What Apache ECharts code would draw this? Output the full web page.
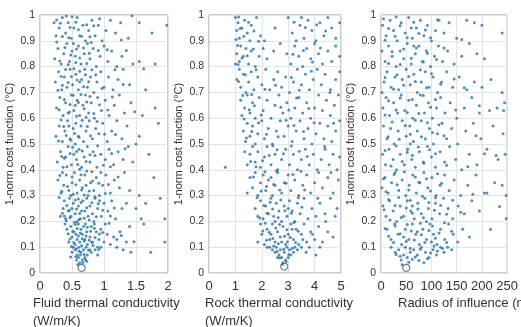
<!DOCTYPE html>
<html><head><meta charset="utf-8">
<script src="https://cdn.jsdelivr.net/npm/echarts@6/dist/echarts.min.js"></script>
<style>html,body{margin:0;padding:0;background:#fff}#c{width:521px;height:327px}</style>
</head><body><div id="c"></div>
<script>
// Panel 1: fluid thermal conductivity (W/m/K) vs 1-norm cost function (°C)
const fluidPoints = [
[0.62,0.04],[0.66,0.05],[0.6,0.06],[0.7,0.06],[0.58,0.07],[0.64,0.08],[0.74,0.07],[0.55,0.09],[0.68,0.09],[0.8,0.08],[0.52,0.1],[0.61,0.1],[0.72,0.1],[0.86,0.09],[0.9,0.07],[0.57,0.05],[0.78,0.09],[0.63,0.07],[0.5,0.08],[0.95,0.1],[1.2,0.1],[1.3,0.09],[1.42,0.08],[1.73,0.08],[1.95,0.12],
[0.45,0.12],[0.5,0.14],[0.55,0.11],[0.58,0.13],[0.62,0.12],[0.66,0.15],[0.7,0.13],[0.74,0.11],[0.78,0.14],[0.82,0.12],[0.88,0.16],[0.92,0.13],[1.0,0.12],[1.05,0.15],[1.1,0.11],[1.15,0.14],[0.42,0.17],[0.48,0.18],[0.53,0.16],[0.6,0.19],[0.64,0.17],[0.68,0.18],[0.73,0.16],[0.8,0.18],[0.85,0.19],[0.95,0.17],[1.02,0.19],[1.2,0.13],[1.25,0.16],[1.35,0.12],[1.4,0.18],[0.56,0.15],[0.71,0.19],[0.39,0.19],[0.9,0.1],
[0.32,0.22],[0.36,0.25],[0.4,0.21],[0.44,0.24],[0.48,0.22],[0.52,0.27],[0.55,0.23],[0.6,0.26],[0.63,0.21],[0.67,0.28],[0.7,0.24],[0.75,0.22],[0.78,0.26],[0.82,0.23],[0.86,0.29],[0.9,0.25],[0.96,0.22],[1.0,0.27],[1.06,0.24],[1.12,0.28],[1.18,0.21],[1.28,0.25],[1.35,0.27],[1.58,0.21],[1.62,0.19],[1.95,0.21],[0.38,0.28],[0.46,0.29],[0.58,0.2],[0.73,0.29],[0.84,0.2],[0.5,0.25],[0.65,0.24],[0.93,0.28],[1.5,0.25],
[0.28,0.36],[0.33,0.31],[0.37,0.34],[0.41,0.38],[0.45,0.32],[0.5,0.35],[0.54,0.39],[0.58,0.31],[0.62,0.36],[0.66,0.33],[0.7,0.38],[0.75,0.3],[0.79,0.35],[0.84,0.32],[0.88,0.37],[0.93,0.3],[0.98,0.34],[1.03,0.38],[1.1,0.31],[1.16,0.36],[1.24,0.33],[1.32,0.39],[1.4,0.32],[1.55,0.3],[1.65,0.27],[1.78,0.37],[0.48,0.3],[0.72,0.34],[0.95,0.39],[0.35,0.39],
[0.27,0.43],[0.32,0.47],[0.36,0.41],[0.4,0.45],[0.44,0.49],[0.49,0.42],[0.53,0.46],[0.57,0.44],[0.61,0.48],[0.65,0.41],[0.69,0.45],[0.74,0.49],[0.78,0.43],[0.83,0.47],[0.89,0.41],[0.95,0.46],[1.02,0.44],[1.08,0.48],[1.15,0.42],[1.22,0.47],[1.3,0.44],[1.38,0.49],[1.45,0.43],[1.5,0.5],[0.55,0.5],
[0.25,0.53],[0.3,0.57],[0.35,0.51],[0.39,0.55],[0.43,0.59],[0.47,0.52],[0.52,0.56],[0.56,0.58],[0.6,0.53],[0.64,0.57],[0.68,0.51],[0.72,0.55],[0.77,0.59],[0.82,0.52],[0.87,0.56],[0.92,0.54],[0.98,0.58],[1.05,0.51],[1.12,0.55],[1.2,0.59],[1.28,0.52],[1.36,0.57],[1.55,0.53],[1.85,0.58],[0.45,0.57],
[0.26,0.64],[0.31,0.68],[0.36,0.61],[0.4,0.66],[0.44,0.62],[0.49,0.69],[0.53,0.63],[0.58,0.67],[0.62,0.61],[0.67,0.65],[0.71,0.69],[0.76,0.62],[0.8,0.66],[0.85,0.6],[0.9,0.68],[0.96,0.63],[1.02,0.67],[1.08,0.61],[1.16,0.65],[1.24,0.69],[1.32,0.62],[1.42,0.66],[1.6,0.61],[1.8,0.64],[0.55,0.65],
[0.24,0.74],[0.29,0.78],[0.34,0.71],[0.38,0.76],[0.42,0.72],[0.47,0.79],[0.51,0.73],[0.56,0.77],[0.6,0.71],[0.65,0.75],[0.7,0.79],[0.74,0.72],[0.79,0.76],[0.84,0.7],[0.89,0.74],[0.95,0.78],[1.0,0.72],[1.07,0.76],[1.14,0.71],[1.22,0.75],[1.3,0.79],[1.4,0.73],[1.65,0.71],[0.62,0.74],
[0.23,0.83],[0.28,0.87],[0.33,0.81],[0.37,0.85],[0.42,0.89],[0.46,0.82],[0.5,0.86],[0.55,0.84],[0.6,0.88],[0.64,0.81],[0.69,0.85],[0.74,0.89],[0.78,0.83],[0.83,0.87],[0.88,0.8],[0.94,0.84],[1.0,0.88],[1.06,0.82],[1.12,0.86],[1.2,0.8],[1.28,0.84],[1.45,0.81],[1.55,0.82],[1.8,0.81],[0.52,0.89],
[0.22,0.97],[0.25,0.92],[0.3,0.95],[0.35,0.99],[0.4,0.93],[0.44,0.97],[0.49,0.91],[0.53,0.95],[0.58,0.99],[0.62,0.92],[0.67,0.96],[0.71,0.9],[0.76,0.94],[0.81,0.98],[0.86,0.92],[0.91,0.96],[0.97,0.9],[1.03,0.94],[1.1,0.98],[1.18,0.93],[1.26,0.97],[1.38,0.91],[1.55,0.97],[1.75,0.93],[1.98,0.96]
];
const fluidPointsMore = [
[0.59,0.033],[0.67,0.041],[0.71,0.052],[0.56,0.063],[0.69,0.072],[0.61,0.084],[0.76,0.088],[0.53,0.118],[0.65,0.106],[0.83,0.107],[0.47,0.132],[0.69,0.124],[0.77,0.127],[0.6,0.143],[0.86,0.138],[0.44,0.152],[0.51,0.161],[0.63,0.155],[0.79,0.162],[0.93,0.151],[0.58,0.172],[0.74,0.177],[0.41,0.203],[0.47,0.214],[0.54,0.197],[0.62,0.231],[0.69,0.212],[0.77,0.205],[0.88,0.218],[0.35,0.232],[0.42,0.262],[0.57,0.248],[0.64,0.273],[0.81,0.272],[0.98,0.243],[0.3,0.293],[0.52,0.305],[0.6,0.287],[0.69,0.302],[0.77,0.318],[0.86,0.296],[0.43,0.335],[0.56,0.342],[0.64,0.381],[0.81,0.392],[0.92,0.348],[1.07,0.343],[0.31,0.378],[0.38,0.445],[0.47,0.463],[0.59,0.421],[0.72,0.432],[0.86,0.455],[0.51,0.487],[0.66,0.473],[0.99,0.418],[1.12,0.463],
[0.29,0.512],[0.41,0.533],[0.54,0.541],[0.66,0.592],[0.74,0.568],[0.89,0.587],[1.01,0.538],[0.33,0.593],[0.46,0.624],[0.57,0.608],[0.69,0.637],[0.78,0.684],[0.93,0.652],[0.38,0.672],[0.52,0.689],[0.64,0.692],[1.13,0.682],[0.28,0.708],[0.44,0.738],[0.58,0.748],[0.68,0.722],[0.76,0.741],[0.87,0.768],[0.4,0.789],[0.53,0.792],[0.71,0.768],[0.31,0.822],[0.48,0.845],[0.62,0.833],[0.73,0.812],[0.91,0.862],[0.26,0.895],[0.39,0.874],[0.57,0.868],[0.8,0.893],[0.45,0.912],[0.6,0.943],[0.73,0.962],[0.26,0.981],[0.5,0.993],[0.84,0.958],
[1.1,0.221],[1.22,0.372],[1.27,0.145],[1.47,0.121],[1.33,0.482],[1.18,0.537],[1.3,0.731],[1.48,0.625],[1.35,0.862],[1.62,0.792],[1.27,0.903],[1.44,0.997],[1.7,0.46],[1.88,0.29],
[0.48,0.062],[0.73,0.046],[0.81,0.118],[0.57,0.094],[0.49,0.103],[0.92,0.091],[0.66,0.133],[0.72,0.143],[0.55,0.188],[0.85,0.173],[0.38,0.221],[0.61,0.207],[0.73,0.253],[0.46,0.243],[0.91,0.268],[0.55,0.283],[0.34,0.317],[0.65,0.322],[0.82,0.357],[0.5,0.372],[0.73,0.395],[0.62,0.402],[0.42,0.412],[0.78,0.458],[0.34,0.452],[0.57,0.471],[0.9,0.493],[0.48,0.515],[0.61,0.526],[0.79,0.532],[0.37,0.568],[0.84,0.618],[0.72,0.604],[0.3,0.633],[0.47,0.653],[0.6,0.661],[0.73,0.663],[0.35,0.728],[0.49,0.762],[0.62,0.782],[0.81,0.788],[0.33,0.762],[0.44,0.808],[0.56,0.816],[0.68,0.872],[0.77,0.852],[0.35,0.917],[0.47,0.952],[0.65,0.918],[0.78,0.916],[0.32,0.968],[0.56,0.972],[0.41,0.996],[0.93,0.985],[1.05,0.865],[1.17,0.788],[0.97,0.715],[1.06,0.632],[1.1,0.412],[1.02,0.308],[1.08,0.193],[1.16,0.252],[0.98,0.157]
];
const fluidBest = [[0.65,0.02]];

// Panel 2: rock thermal conductivity (W/m/K)
const rockPoints = [
[2.8,0.04],[2.9,0.05],[2.75,0.06],[3.0,0.06],[2.65,0.07],[3.1,0.07],[2.5,0.08],[2.85,0.08],[3.2,0.08],[2.4,0.09],[2.7,0.09],[3.05,0.09],[3.35,0.09],[2.3,0.1],[2.55,0.1],[2.95,0.1],[3.25,0.1],[2.2,0.1],[3.5,0.1],[3.8,0.1],[4.2,0.1],[2.6,0.06],
[1.85,0.12],[2.0,0.15],[2.1,0.11],[2.2,0.17],[2.3,0.13],[2.4,0.19],[2.5,0.12],[2.6,0.16],[2.7,0.14],[2.8,0.18],[2.9,0.11],[3.0,0.15],[3.1,0.19],[3.2,0.13],[3.3,0.17],[3.4,0.11],[3.5,0.15],[3.6,0.19],[3.7,0.12],[3.85,0.16],[4.0,0.13],[4.15,0.18],[4.3,0.12],[4.5,0.16],[4.7,0.14],[1.95,0.19],[2.35,0.15],[2.75,0.12],[3.15,0.17],[3.55,0.13],
[1.75,0.25],[1.85,0.22],[1.95,0.28],[2.05,0.21],[2.15,0.26],[2.25,0.23],[2.35,0.29],[2.45,0.22],[2.55,0.27],[2.65,0.24],[2.75,0.2],[2.85,0.26],[2.95,0.22],[3.05,0.28],[3.15,0.24],[3.25,0.2],[3.35,0.27],[3.45,0.23],[3.6,0.29],[3.75,0.21],[3.9,0.25],[4.05,0.22],[4.2,0.27],[4.4,0.23],[4.6,0.29],[4.85,0.25],[2.5,0.2],[3.0,0.25],
[1.45,0.31],[1.55,0.37],[1.65,0.33],[1.75,0.39],[1.85,0.3],[1.95,0.35],[2.05,0.38],[2.15,0.32],[2.25,0.36],[2.4,0.3],[2.5,0.34],[2.6,0.39],[2.75,0.31],[2.85,0.35],[3.0,0.38],[3.1,0.32],[3.25,0.36],[3.4,0.3],[3.55,0.34],[3.7,0.38],[3.85,0.31],[4.0,0.35],[4.15,0.39],[4.3,0.33],[4.5,0.37],[4.7,0.31],[4.9,0.36],[2.35,0.37],
[0.62,0.41],[1.35,0.47],[1.45,0.42],[1.55,0.46],[1.65,0.49],[1.75,0.43],[1.85,0.47],[1.95,0.41],[2.1,0.45],[2.2,0.49],[2.35,0.42],[2.5,0.46],[2.6,0.4],[2.75,0.44],[2.9,0.48],[3.05,0.42],[3.2,0.46],[3.35,0.4],[3.5,0.44],[3.65,0.48],[3.8,0.42],[3.95,0.46],[4.1,0.4],[4.25,0.44],[4.4,0.48],[4.55,0.42],[4.7,0.46],[4.85,0.4],[4.95,0.45],
[1.3,0.55],[1.38,0.51],[1.45,0.58],[1.55,0.53],[1.65,0.57],[1.75,0.5],[1.85,0.54],[2.0,0.59],[2.1,0.52],[2.25,0.56],[2.4,0.5],[2.55,0.55],[2.7,0.59],[2.85,0.53],[3.0,0.57],[3.15,0.51],[3.3,0.55],[3.45,0.59],[3.6,0.52],[3.75,0.56],[3.9,0.5],[4.05,0.54],[4.2,0.58],[4.35,0.52],[4.5,0.57],[4.65,0.51],[4.8,0.55],[4.95,0.59],
[1.2,0.67],[1.25,0.61],[1.35,0.64],[1.45,0.69],[1.55,0.62],[1.65,0.66],[1.75,0.6],[1.9,0.68],[2.05,0.63],[2.2,0.67],[2.35,0.6],[2.5,0.65],[2.65,0.69],[2.8,0.62],[2.95,0.66],[3.1,0.6],[3.25,0.64],[3.4,0.68],[3.55,0.62],[3.7,0.66],[3.85,0.6],[4.0,0.64],[4.15,0.69],[4.3,0.63],[4.45,0.67],[4.6,0.61],[4.75,0.65],[4.9,0.69],
[1.05,0.75],[1.15,0.79],[1.2,0.72],[1.3,0.77],[1.4,0.7],[1.5,0.74],[1.6,0.78],[1.7,0.71],[1.85,0.76],[2.0,0.73],[2.15,0.79],[2.3,0.71],[2.45,0.75],[2.6,0.78],[2.75,0.72],[2.9,0.76],[3.05,0.7],[3.2,0.74],[3.35,0.79],[3.5,0.73],[3.65,0.77],[3.8,0.71],[3.95,0.75],[4.1,0.79],[4.25,0.73],[4.4,0.77],[4.6,0.71],[4.8,0.75],[4.95,0.78],
[1.0,0.81],[1.05,0.85],[1.15,0.82],[1.2,0.88],[1.3,0.84],[1.4,0.87],[1.5,0.81],[1.6,0.86],[1.75,0.8],[1.9,0.84],[2.05,0.87],[2.2,0.83],[2.45,0.86],[2.7,0.89],[2.95,0.85],[3.1,0.81],[3.25,0.88],[3.4,0.84],[3.55,0.8],[3.7,0.87],[3.85,0.83],[4.0,0.89],[4.15,0.85],[4.3,0.81],[4.5,0.86],[4.65,0.82],[4.8,0.88],[4.95,0.84],
[1.0,0.99],[1.05,0.94],[1.1,0.97],[1.15,0.91],[1.25,0.95],[1.35,0.98],[1.45,0.93],[1.55,0.9],[1.6,0.96],[1.8,0.99],[1.95,0.92],[2.1,0.9],[2.5,0.95],[3.0,0.99],[3.15,0.93],[3.3,0.9],[3.45,0.96],[3.6,0.91],[3.75,0.98],[3.9,0.94],[4.05,0.9],[4.2,0.97],[4.35,0.92],[4.5,0.99],[4.65,0.95],[4.8,0.91],[4.95,0.97],[3.5,0.99]
];
const rockPointsMore = [
[2.78,0.033],[2.92,0.045],[2.68,0.058],[3.02,0.072],[2.58,0.083],[2.83,0.092],[3.15,0.095],[2.45,0.105],[2.63,0.113],[2.97,0.121],[3.28,0.118],[2.18,0.127],[2.42,0.134],[2.86,0.142],[3.08,0.138],[2.04,0.163],[2.28,0.158],[2.53,0.174],[2.95,0.168],[3.38,0.162],[2.13,0.193],[2.67,0.188],[3.22,0.196],[1.92,0.213],[2.2,0.232],[2.41,0.248],[2.62,0.215],[2.88,0.241],[3.12,0.232],[3.52,0.255],[2.08,0.262],[2.32,0.274],[2.72,0.283],[3.38,0.292],[1.82,0.292],[1.98,0.318],[2.18,0.335],[2.45,0.343],[2.68,0.322],[2.92,0.348],[3.18,0.382],[3.62,0.322],[1.68,0.372],[2.12,0.392],[2.55,0.395],[3.48,0.394],[1.78,0.412],[2.03,0.435],[2.28,0.455],[2.58,0.478],[2.82,0.462],[3.12,0.492],[3.42,0.472],[1.58,0.432],[2.42,0.493],[3.72,0.452],
[1.42,0.523],[1.62,0.548],[1.88,0.582],[2.18,0.538],[2.62,0.528],[2.92,0.592],[3.22,0.572],[3.58,0.548],[3.98,0.582],[1.33,0.597],[1.52,0.633],[1.72,0.648],[1.98,0.612],[2.72,0.642],[3.02,0.632],[3.32,0.678],[3.78,0.638],[1.28,0.688],[1.62,0.692],[2.12,0.712],[2.52,0.728],[3.12,0.758],[3.42,0.708],[3.88,0.782],[1.12,0.742],[1.38,0.768],[1.78,0.788],[1.1,0.808],[1.25,0.833],[1.45,0.842],[1.68,0.868],[1.88,0.898],[3.18,0.848],[3.58,0.862],[3.92,0.818],[4.22,0.872],[1.08,0.882],[1.18,0.948],[1.32,0.918],[1.5,0.972],[1.7,0.938],[3.22,0.972],[3.65,0.952],[4.08,0.962],[4.42,0.938],[1.12,0.992],[1.02,0.905],[4.58,0.7],[4.72,0.58],[4.38,0.49],[4.62,0.39],[4.78,0.22],[4.12,0.29],[3.92,0.15],[4.42,0.2],[3.68,0.08],[4.05,0.07]
];
const rockBest = [[2.85,0.025]];

// Panel 3: radius of influence (m)
const radiusPoints = [
[3,0.96],[10,0.92],[18,0.98],[25,0.94],[32,0.9],[40,0.97],[48,0.93],[55,0.99],[62,0.91],[70,0.95],[78,0.98],[85,0.92],[92,0.96],[100,0.9],[108,0.94],[115,0.98],[125,0.93],[135,0.97],[150,0.91],[170,0.98],[185,0.97],[200,0.96],[240,0.93],[60,0.95],
[2,0.86],[8,0.82],[15,0.88],[22,0.84],[30,0.8],[38,0.86],[45,0.83],[52,0.89],[60,0.81],[68,0.85],[75,0.88],[82,0.82],[90,0.86],[98,0.8],[106,0.84],[114,0.88],[122,0.82],[132,0.86],[145,0.81],[160,0.84],[175,0.89],[190,0.85],[205,0.83],[65,0.88],
[2,0.7],[6,0.74],[12,0.78],[20,0.72],[28,0.76],[35,0.71],[42,0.75],[50,0.79],[58,0.73],[65,0.77],[72,0.7],[80,0.74],[88,0.78],[95,0.72],[103,0.76],[112,0.7],[120,0.74],[130,0.78],[142,0.72],[155,0.76],[170,0.71],[185,0.74],[200,0.72],[218,0.75],[240,0.7],
[4,0.64],[10,0.68],[17,0.61],[25,0.66],[33,0.62],[40,0.69],[47,0.63],[55,0.67],[63,0.6],[70,0.65],[78,0.69],[86,0.62],[94,0.66],[102,0.6],[110,0.64],[118,0.68],[127,0.62],[137,0.66],[150,0.6],[165,0.64],[180,0.68],[195,0.62],[215,0.63],[230,0.64],[245,0.66],
[5,0.57],[12,0.52],[19,0.56],[26,0.5],[34,0.55],[42,0.59],[50,0.53],[57,0.57],[64,0.51],[72,0.55],[80,0.59],[88,0.52],[96,0.56],[104,0.5],[112,0.54],[121,0.58],[130,0.52],[140,0.56],[152,0.5],[168,0.55],[183,0.58],[198,0.52],[222,0.57],[242,0.54],[58,0.5],
[3,0.46],[9,0.42],[16,0.48],[24,0.44],[31,0.4],[38,0.46],[46,0.42],[53,0.48],[61,0.44],[68,0.41],[76,0.47],[84,0.43],[92,0.49],[100,0.45],[108,0.41],[117,0.47],[126,0.43],[136,0.49],[148,0.44],[160,0.4],[175,0.46],[190,0.42],[210,0.48],[232,0.44],[246,0.46],
[2,0.33],[8,0.37],[14,0.31],[21,0.35],[28,0.39],[35,0.32],[42,0.36],[49,0.3],[56,0.34],[63,0.38],[70,0.31],[77,0.35],[85,0.39],[93,0.33],[101,0.37],[109,0.3],[117,0.34],[126,0.38],[135,0.32],[145,0.36],[158,0.3],[172,0.34],[188,0.38],[205,0.31],[225,0.35],[248,0.3],[240,0.34],
[4,0.26],[10,0.22],[17,0.28],[24,0.24],[31,0.2],[38,0.26],[45,0.22],[52,0.28],[59,0.24],[66,0.21],[73,0.27],[80,0.23],[87,0.29],[94,0.25],[101,0.21],[108,0.27],[116,0.23],[124,0.29],[133,0.25],[142,0.21],[153,0.26],[165,0.23],[180,0.28],[195,0.24],[217,0.17],[248,0.21],[62,0.26],[90,0.2],
[12,0.17],[20,0.13],[27,0.19],[34,0.15],[41,0.11],[48,0.17],[55,0.13],[62,0.19],[69,0.15],[76,0.11],[83,0.17],[90,0.13],[97,0.19],[104,0.15],[111,0.11],[118,0.17],[126,0.13],[134,0.19],[143,0.15],[152,0.12],[162,0.17],[175,0.14],[45,0.14],[72,0.16],[100,0.12],
[40,0.05],[45,0.07],[52,0.06],[58,0.08],[35,0.09],[48,0.1],[65,0.09],[72,0.07],[80,0.1],[88,0.08],[95,0.06],[103,0.09],[110,0.07],[118,0.1],[125,0.08],[85,0.04],[20,0.1],[28,0.08],[132,0.1],[140,0.09]
];
const radiusPointsMore = [
[42,0.032],[55,0.042],[62,0.053],[75,0.048],[92,0.055],[38,0.065],[68,0.062],[98,0.078],[112,0.085],[30,0.072],[58,0.095],[78,0.092],[105,0.105],[122,0.095],[25,0.118],[50,0.122],[66,0.128],[87,0.118],[108,0.135],[130,0.118],[15,0.142],[38,0.152],[60,0.163],[80,0.148],[95,0.165],[115,0.155],[140,0.162],[8,0.172],[28,0.182],[52,0.188],[78,0.193],[102,0.182],[126,0.195],[18,0.205],[40,0.215],[62,0.232],[84,0.214],[106,0.243],[130,0.228],[6,0.245],[28,0.262],[50,0.252],[73,0.248],[95,0.273],[118,0.262],[15,0.285],[35,0.293],[58,0.282],[82,0.297],[108,0.292],[142,0.282],[10,0.315],[32,0.342],[55,0.322],[75,0.352],[98,0.318],[120,0.348],[5,0.365],[26,0.382],[46,0.392],[68,0.372],[90,0.365],[112,0.385],[20,0.415],[42,0.432],[62,0.455],[85,0.425],[108,0.462],[130,0.418],[8,0.475],[30,0.492],[52,0.468],[74,0.488],[96,0.478],
[14,0.528],[36,0.518],[58,0.538],[80,0.528],[102,0.545],[125,0.532],[22,0.585],[48,0.572],[68,0.592],[92,0.582],[115,0.575],[8,0.612],[30,0.632],[52,0.622],[75,0.618],[98,0.642],[15,0.668],[38,0.678],[62,0.672],[84,0.688],[108,0.672],[25,0.712],[45,0.728],[68,0.742],[90,0.718],[118,0.732],[8,0.758],[32,0.768],[55,0.762],[78,0.788],[100,0.772],[15,0.812],[38,0.808],[60,0.832],[84,0.818],[110,0.828],[22,0.858],[45,0.868],[70,0.872],[92,0.852],[125,0.872],[8,0.902],[28,0.918],[52,0.912],[75,0.928],[98,0.912],[15,0.948],[38,0.958],[65,0.972],[88,0.942],[112,0.982],[30,0.992],[5,0.985],
[158,0.235],[172,0.412],[188,0.532],[165,0.718],[148,0.632],[210,0.31],[228,0.455],[160,0.905],[145,0.752],[195,0.648],[182,0.305],[205,0.462],[235,0.258],[243,0.63]
];
const radiusBest = [[50,0.02]];

const xLabels = ["Fluid thermal conductivity\n(W/m/K)", "Rock thermal conductivity\n(W/m/K)", "Radius of influence (m)"];
const yLabel = "1-norm cost function (°C)";
const xRanges = [[0,2,0.5],[0,5,1],[0,250,50]];
const yRange = [0,1,0.1];

const chart = echarts.init(document.getElementById('c'), null, {renderer:'canvas'});
const FONT = '"Liberation Sans", Arial, sans-serif';
const TXT = '#333';
const grids = [
  {left:40, width:128, top:15, height:258},
  {left:209, width:132, top:15, height:258},
  {left:381, width:127, top:15, height:258}
].map(g => Object.assign({show:true, borderColor:'#9a9a9a', borderWidth:1, backgroundColor:'#fff'}, g));

const xAxes = xRanges.map((r,i)=>({
  type:'value', gridIndex:i, min:r[0], max:r[1], interval:r[2],
  axisLine:{show:false}, axisTick:{show:false},
  axisLabel:{color:TXT, fontSize:13, fontFamily:FONT, margin:7},
  splitLine:{show:true, lineStyle:{color:'#e4e4e4', width:1}}
}));
const yAxes = [0,1,2].map(i=>({
  type:'value', gridIndex:i, min:yRange[0], max:yRange[1], interval:yRange[2],
  axisLine:{show:false}, axisTick:{show:false},
  axisLabel:{color:TXT, fontSize:10.5, fontFamily:FONT, margin:5},
  splitLine:{show:true, lineStyle:{color:'#e4e4e4', width:1}},
  name:yLabel, nameLocation:'middle', nameGap:25, nameRotate:90,
  nameTextStyle:{color:TXT, fontSize:11, fontFamily:FONT}
}));

const ptsSets = [fluidPoints.concat(fluidPointsMore), rockPoints.concat(rockPointsMore), radiusPoints.concat(radiusPointsMore)];
const bestSets = [fluidBest, rockBest, radiusBest];
const series = [];
ptsSets.forEach((d,i)=>{
  series.push({type:'scatter', xAxisIndex:i, yAxisIndex:i, data:d, symbolSize:3,
    itemStyle:{color:'#2573aa'}, silent:true});
  series.push({type:'scatter', xAxisIndex:i, yAxisIndex:i, data:bestSets[i], symbol:'circle', symbolSize:7,
    itemStyle:{color:'rgba(0,0,0,0)', borderColor:'#506478', borderWidth:1.2}, silent:true, z:5});
});

const nameX = [33, 205, 398];
chart.setOption({
  animation:false,
  grid:grids, xAxis:xAxes, yAxis:yAxes, series:series,
  graphic: xLabels.map((t,i)=>({type:'text', left:nameX[i], top:294,
    style:{text:t, fill:TXT, font:'13px '+FONT, lineHeight:18, textAlign:'left'}}))
});
</script></body></html>
